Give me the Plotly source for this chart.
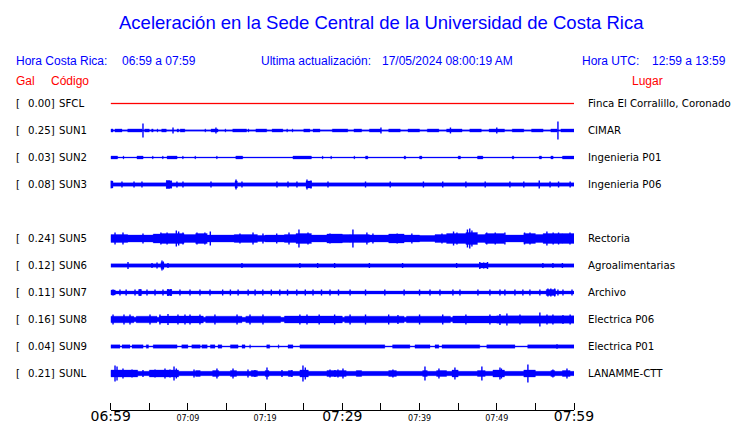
import plotly.graph_objects as go

# ---------------- data ----------------
codes = ["SFCL", "SUN1", "SUN2", "SUN3", "SUN5", "SUN6", "SUN7", "SUN8", "SUN9", "SUNL"]
row_index = [0, 1, 2, 3, 5, 6, 7, 8, 9, 10]
gal = [0.00, 0.25, 0.03, 0.08, 0.24, 0.12, 0.11, 0.16, 0.04, 0.21]
places = ["Finca El Corralillo, Coronado", "CIMAR", "Ingenieria P01", "Ingenieria P06",
          "Rectoria", "Agroalimentarias", "Archivo", "Electrica P06", "Electrica P01",
          "LANAMME-CTT"]
# continuous background amplitude of each trace (trace units)
base_amp = [0.5, 0.7, 0.5, 1.7, 2.7, 1.7, 1.5, 2.2, 0.6, 2.2]

window_minutes = 60
tick_minutes = list(range(0, 61, 5))
tick_labels = ["06:59", "", "07:09", "", "07:19", "", "07:29", "", "07:39", "", "07:49", "", "07:59"]
big_tick_labels = ["06:59", "07:29", "07:59"]

# bursts: (start minute, end minute, amplitude)
bursts_SFCL = []
bursts_SUN1 = [(0.0, 0.3, 1.6), (0.56, 1.46, 1.6), (2.2, 4.05, 1.6), (4.4, 5.0, 1.6), (5.3, 5.5, 1.6),
               (6.0, 6.1, 1.6), (6.6, 7.2, 1.6), (8.6, 8.8, 1.6), (9.0, 9.6, 1.6), (12.2, 12.3, 1.6),
               (13.0, 13.9, 1.6), (14.8, 14.9, 1.6), (15.8, 17.6, 1.6), (17.8, 17.9, 1.6),
               (18.8, 20.2, 1.6), (20.9, 22.3, 1.6), (22.8, 22.9, 1.6), (23.5, 23.6, 1.6),
               (25.0, 25.8, 1.6), (26.2, 27.1, 1.6), (28.7, 30.7, 1.6), (31.5, 32.5, 1.6),
               (33.5, 35.0, 1.6), (36.0, 37.5, 1.6), (38.5, 40.0, 1.6), (41.0, 42.5, 1.6),
               (43.5, 45.5, 1.6), (46.5, 48.0, 1.6), (49.0, 51.0, 1.6), (52.0, 53.5, 1.6),
               (54.5, 56.0, 1.6), (57.0, 57.8, 1.6), (58.3, 60.0, 1.6)]
bursts_SUN2 = [(0.0, 0.9, 1.5), (1.6, 1.7, 1.5), (3.4, 4.2, 1.5), (5.4, 5.5, 1.5), (6.7, 6.8, 1.5),
               (7.3, 8.6, 1.5), (9.3, 9.4, 1.5), (10.9, 11.0, 1.5), (13.7, 13.8, 1.5),
               (16.2, 17.1, 1.5), (23.6, 26.0, 1.5), (27.4, 27.5, 1.5), (28.5, 28.6, 1.5),
               (31.5, 31.6, 1.5), (33.0, 33.3, 1.5), (38.0, 38.2, 1.5), (40.0, 40.3, 1.5),
               (45.0, 45.3, 1.5), (47.5, 48.2, 1.5), (52.0, 52.2, 1.5), (55.5, 55.8, 1.5),
               (57.0, 57.3, 1.5), (58.5, 60.0, 1.5)]
bursts_SUN3 = [(0.0, 0.3, 3.5), (7.2, 7.9, 3.5), (16.1, 16.4, 3.5), (25.3, 26.0, 3.5)]
bursts_SUN5 = [(0.0, 2.2, 4), (2.2, 5.5, 3.5), (5.5, 6.5, 4.5), (6.5, 9.5, 5), (9.5, 11.0, 4),
               (11.0, 12.5, 5), (12.5, 16.0, 3.5), (16.0, 19.0, 4), (19.0, 20.0, 3),
               (20.0, 22.5, 3.5), (22.5, 24.0, 4), (24.0, 26.0, 5), (26.0, 28.0, 3.5),
               (28.0, 30.0, 4.5), (30.0, 31.0, 4), (31.0, 33.5, 4), (33.5, 36.0, 3.5),
               (36.0, 38.0, 4.5), (38.0, 40.0, 3.5), (40.0, 42.0, 3), (42.0, 43.5, 4),
               (43.5, 46.0, 5), (46.0, 47.5, 6), (47.5, 48.5, 4), (48.5, 51.0, 5),
               (51.0, 53.5, 3.5), (53.5, 55.0, 5), (55.0, 56.0, 4), (56.0, 58.5, 5),
               (58.5, 60.0, 5)]
bursts_SUN6 = [(6.5, 6.9, 3), (47.8, 48.8, 2.5)]
bursts_SUN7 = [(0.0, 0.6, 2.5), (3.6, 4.0, 3), (7.3, 7.9, 3), (56.4, 57.6, 3)]
bursts_SUN8 = [(0.0, 3.0, 3.3), (3.3, 6.0, 3.3), (6.3, 12.0, 3.5), (12.3, 17.0, 3.3),
               (17.5, 22.0, 3.3), (22.5, 30.0, 3.5), (30.3, 38.0, 3.3), (38.3, 44.0, 3.3),
               (44.3, 50.0, 3.5), (50.0, 60.0, 3.8)]
bursts_SUN9 = [(0.0, 1.2, 1.7), (1.46, 2.5, 1.7), (2.76, 4.2, 1.7), (4.6, 4.9, 1.7),
               (5.5, 8.6, 1.7), (9.2, 10.0, 1.7), (10.5, 11.6, 1.7), (11.8, 12.5, 1.7),
               (12.9, 13.5, 1.7), (13.9, 14.4, 1.7), (15.5, 16.5, 1.7), (17.0, 17.4, 1.7),
               (18.0, 18.1, 1.7), (20.2, 20.6, 1.7), (21.7, 21.8, 1.7), (22.96, 23.6, 1.7),
               (24.5, 35.5, 1.7), (36.5, 38.75, 1.7), (39.4, 41.35, 1.7), (42.0, 42.5, 1.7),
               (42.9, 47.8, 1.7), (48.7, 52.35, 1.7), (54.0, 60.0, 1.7)]
bursts_SUNL = [(0.0, 3.5, 3.5), (5.0, 8.8, 3.5), (11.0, 11.6, 3), (13.2, 14.0, 3),
               (15.5, 16.3, 3), (18.2, 19.0, 3), (20.0, 20.5, 3), (23.0, 23.5, 3),
               (24.5, 25.6, 3.5), (28.0, 30.5, 3), (31.8, 32.5, 3), (36.0, 37.0, 3),
               (40.4, 41.0, 3), (42.2, 43.5, 3), (44.2, 45.0, 3.5), (47.5, 48.5, 3),
               (49.5, 51.0, 3.5), (53.5, 55.0, 3.5), (57.0, 57.5, 3), (58.5, 59.5, 3)]

# spikes: (minute, amplitude)
spikes_SFCL = []
spikes_SUN1 = [(4.18, 7), (8.07, 3), (13.63, 3), (35.0, 3), (44.0, 3), (50.0, 3), (57.92, 9)]
spikes_SUN2 = []
spikes_SUN3 = [(0.0, 4), (1.46, 3), (3.02, 3), (4.05, 3), (7.29, 4.5), (7.55, 4.5), (7.81, 4),
               (8.58, 3), (9.36, 3), (12.99, 3), (16.23, 5), (17.0, 3), (21.53, 3), (22.96, 3),
               (24.12, 3), (25.42, 5), (25.94, 4), (28.14, 3), (33.0, 3), (36.2, 3),
               (40.5, 3), (43.0, 3), (46.0, 3), (48.5, 3), (51.7, 3), (53.5, 3), (55.5, 4),
               (56.9, 3), (58.0, 3), (59.5, 3)]
spikes_SUN5 = [(0.56, 6), (1.59, 6), (4.18, 5), (6.5, 6), (7.3, 6), (8.5, 8), (8.8, 7),
               (9.36, 6), (11.17, 6), (12.2, 6), (12.9, 7), (16.74, 5), (18.43, 6),
               (19.72, 5), (21.5, 5), (23.09, 6), (24.38, 9), (25.55, 6), (28.4, 5),
               (31.37, 9), (33.18, 6), (33.96, 5), (37.1, 5), (39.0, 5), (42.9, 5),
               (44.4, 7), (44.84, 6), (46.2, 9), (46.5, 10), (46.78, 8), (48.7, 6),
               (49.8, 6), (51.05, 6), (53.6, 6), (54.3, 6), (56.49, 7), (57.3, 6),
               (58.0, 6), (59.48, 6)]
spikes_SUN6 = [(2.24, 3.5), (5.35, 2.5), (6.0, 3), (6.64, 5), (6.8, 4), (7.42, 2.5),
               (17.0, 2.5), (24.5, 2.5), (26.8, 2.5), (29.0, 2.5), (33.5, 2.5), (37.8, 2.5),
               (44.8, 2.5), (47.8, 3.5), (48.3, 3), (48.8, 3.5), (55.97, 2.5), (57.27, 2.5),
               (58.5, 2.5)]
spikes_SUN7 = [(0.3, 3), (1.2, 3), (2.0, 3), (3.15, 3), (3.8, 3.5), (4.7, 3), (5.74, 3),
               (6.77, 3), (7.42, 3.5), (7.8, 3.5), (8.97, 3), (10.27, 3), (11.56, 3),
               (12.86, 3), (14.5, 3), (15.5, 3), (16.5, 3), (17.8, 3), (18.7, 3), (19.7, 3),
               (20.8, 3), (21.9, 3), (22.9, 3), (24.1, 3), (25.2, 3), (26.2, 3), (27.3, 3),
               (28.4, 3), (29.5, 3), (31.0, 3), (33.0, 3), (35.5, 3), (38.0, 3), (40.0, 3),
               (41.35, 3), (42.64, 3), (44.32, 3), (45.23, 3), (47.56, 3), (49.11, 3),
               (50.41, 3), (51.05, 3), (52.35, 3), (53.38, 3), (54.29, 3), (55.58, 3),
               (56.62, 4), (57.0, 4), (57.5, 4), (57.92, 3), (58.57, 3), (59.74, 3)]
spikes_SUN8 = [(0.3, 5), (1.72, 5), (2.5, 5), (5.09, 5), (6.38, 5), (7.42, 5.5), (8.71, 5),
               (9.62, 5), (10.27, 5), (11.56, 5), (13.5, 5), (16.36, 5), (18.04, 5),
               (19.72, 5), (24.5, 5), (25.42, 5), (27.0, 5), (29.0, 5), (31.0, 5), (33.0, 5),
               (36.0, 5), (37.2, 4.5), (40.0, 5), (43.0, 5), (46.0, 5), (49.11, 5),
               (50.41, 5.5), (51.31, 6), (53.0, 5), (55.58, 7), (56.5, 5), (57.27, 5),
               (58.57, 4.5), (59.5, 5)]
spikes_SUN9 = [(57.8, 2.2)]
spikes_SUNL = [(0.56, 8), (0.82, 7), (1.59, 5), (2.76, 4), (4.18, 3.5), (5.74, 4), (7.03, 5),
               (7.68, 4), (8.2, 7), (8.5, 5), (10.79, 4), (13.76, 5), (15.84, 5), (17.78, 4),
               (18.68, 3.5), (20.24, 6), (22.18, 3.5), (23.47, 3.5), (24.9, 8), (25.2, 6),
               (28.4, 4), (29.04, 3.5), (29.43, 4), (30.08, 5), (36.55, 4), (40.7, 7),
               (42.51, 5), (44.58, 6), (48.07, 7), (50.41, 6), (50.6, 5), (54.03, 9),
               (57.27, 4), (59.09, 5)]

bursts = {"SFCL": bursts_SFCL, "SUN1": bursts_SUN1, "SUN2": bursts_SUN2, "SUN3": bursts_SUN3,
          "SUN5": bursts_SUN5, "SUN6": bursts_SUN6, "SUN7": bursts_SUN7, "SUN8": bursts_SUN8,
          "SUN9": bursts_SUN9, "SUNL": bursts_SUNL}
spikes = {"SFCL": spikes_SFCL, "SUN1": spikes_SUN1, "SUN2": spikes_SUN2, "SUN3": spikes_SUN3,
          "SUN5": spikes_SUN5, "SUN6": spikes_SUN6, "SUN7": spikes_SUN7, "SUN8": spikes_SUN8,
          "SUN9": spikes_SUN9, "SUNL": spikes_SUNL}

# ---------------- layout constants ----------------
W, H = 740, 423
ROW_STEP = 27            # trace units between rows
X0_PX, X1_PX = 110.7, 574.0
AXIS_PX = 409.5
LABEL_AXIS_PX = 406
ROW0_PX = 103.5
BLUE = "#0000ff"
RED = "#ff0000"
HEAD_FONT = "Liberation Sans, Arial, sans-serif"
ROW_FONT = "DejaVu Sans, sans-serif"

fig = go.Figure()

for code, r, b_amp, g in zip(codes, row_index, base_amp, gal):
    yc = r * ROW_STEP
    color = RED if g == 0 else BLUE
    xs, ys = [], []
    segs = [(0, window_minutes, b_amp)] + bursts[code]
    for (a, b, amp) in segs:
        xs += [a, b, b, a, a, None]
        ys += [yc - amp, yc - amp, yc + amp, yc + amp, yc - amp, None]
    fig.add_trace(go.Scatter(x=xs, y=ys, mode="lines", fill="toself", fillcolor=color,
                             line=dict(color=color, width=0.3), hoverinfo="skip",
                             showlegend=False))
    if spikes[code]:
        sx, sy = [], []
        for (t, amp) in spikes[code]:
            sx += [t, t, None]
            sy += [yc - amp, yc + amp, None]
        fig.add_trace(go.Scatter(x=sx, y=sy, mode="lines", line=dict(color=color, width=1.4),
                                 hoverinfo="skip", showlegend=False))

# empty trace so the label axis is rendered
fig.add_trace(go.Scatter(x=[None], y=[None], xaxis="x2", yaxis="y", mode="lines",
                         hoverinfo="skip", showlegend=False))

ann = []
def px_x(p):
    return p / W
def px_y(p):
    return p - ROW0_PX

# title and header
ann.append(dict(text="Aceleración en la Sede Central de la Universidad de Costa Rica",
                x=px_x(382), y=px_y(22), xanchor="center",
                font=dict(family=HEAD_FONT, size=18.5, color=BLUE)))
for txt, xp in [("Hora Costa Rica:", 15), ("06:59 a 07:59", 120.5),
                ("Ultima actualización:", 260), ("17/05/2024 08:00:19 AM", 380.5),
                ("Hora UTC:", 580.5), ("12:59 a 13:59", 650.5)]:
    ann.append(dict(text=txt, x=px_x(xp), y=px_y(61), xanchor="left",
                    font=dict(family=HEAD_FONT, size=12, color=BLUE)))
for txt, xp in [("Gal", 15), ("Código", 50), ("Lugar", 630.5)]:
    ann.append(dict(text=txt, x=px_x(xp), y=px_y(80.5), xanchor="left",
                    font=dict(family=HEAD_FONT, size=12, color=RED)))

# row labels
for code, r, g, place in zip(codes, row_index, gal, places):
    yc = r * ROW_STEP
    f = dict(family=ROW_FONT, size=10.2, color="black")
    ann.append(dict(text="[", x=px_x(14.5), y=yc, xanchor="left", font=f))
    ann.append(dict(text=f"{g:.2f}]", x=px_x(55.5), y=yc, xanchor="right", font=f))
    ann.append(dict(text=code, x=px_x(57.5), y=yc, xanchor="left", font=f))
    ann.append(dict(text=place, x=px_x(586.5), y=yc, xanchor="left", font=f))

for a in ann:
    a.update(xref="paper", yref="y", showarrow=False, yanchor="middle", borderpad=0)

ticktext = [t if (t in big_tick_labels or t == "") else f'<span style="font-size:8px">{t}</span>'
            for t in tick_labels]

xdom = [X0_PX / W, X1_PX / W]
fig.update_layout(
    width=W, height=H,
    margin=dict(l=0, r=0, t=0, b=0, pad=0),
    paper_bgcolor="white", plot_bgcolor="white",
    annotations=ann,
    # tick axis: line at the bottom, ticks pointing up
    xaxis=dict(range=[0, window_minutes], domain=xdom, anchor="free",
               position=(H - AXIS_PX) / H, side="top",
               showgrid=False, zeroline=False, showline=True, linecolor="black", linewidth=1,
               ticks="outside", ticklen=7, tickwidth=1, tickcolor="black",
               tickmode="array", tickvals=tick_minutes, showticklabels=False,
               automargin=False, fixedrange=True, layer="above traces"),
    # label axis
    xaxis2=dict(range=[0, window_minutes], domain=xdom,
                overlaying="x", anchor="free", position=(H - LABEL_AXIS_PX) / H,
                side="bottom", showgrid=False, zeroline=False, showline=False, ticks="",
                tickmode="array", tickvals=tick_minutes, ticktext=ticktext,
                tickfont=dict(family=ROW_FONT, size=14, color="black"),
                automargin=False, fixedrange=True),
    yaxis=dict(range=[H - ROW0_PX, -ROW0_PX], domain=[0, 1], visible=True,
               showline=False, showgrid=False, zeroline=False, ticks="",
               showticklabels=False, automargin=False, fixedrange=True),
    showlegend=False,
)

fig.write_html("out.html", config={"staticPlot": True},
               post_script="document.body.style.margin='0';document.body.style.overflow='hidden';")
